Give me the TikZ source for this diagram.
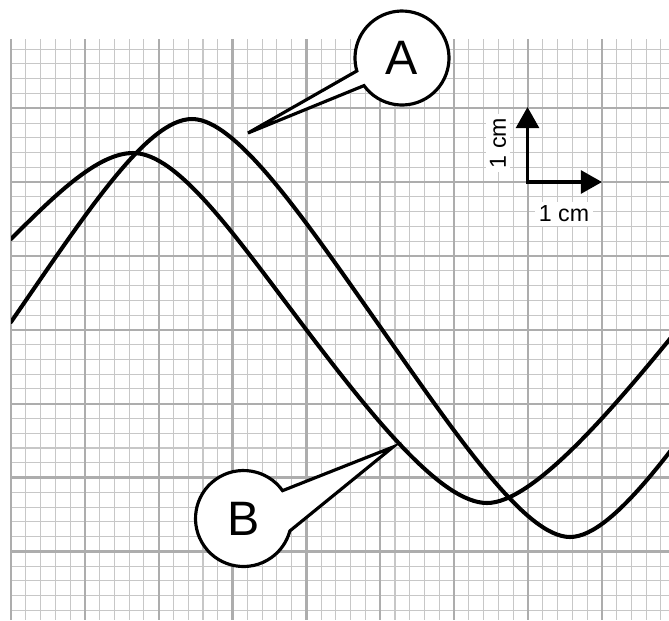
\documentclass[tikz,border=0pt]{standalone}
\usepackage{fontspec}
\setmainfont{Liberation Sans}
\usetikzlibrary{arrows.meta}
\begin{document}
\begin{tikzpicture}[x=0.02cm,y=-0.02cm,
  minorline/.style={draw=black!22, line width=0.6pt},
  majorline/.style={draw=black!32, line width=1.3pt},
  wave/.style={line width=2.3pt, line join=round, line cap=round},
  callout/.style={draw=black, fill=white, line width=1.8pt, line join=miter},
  bigletter/.style={font=\fontsize{27.5}{30}\selectfont, inner sep=0pt},
  cmlabel/.style={font=\fontsize{13.2}{15}\selectfont, fill=white, inner sep=2pt},
  scalearrow/.style={line width=1.9pt, line join=miter, {Triangle[length=12pt,width=13pt]}-{Triangle[length=12pt,width=13pt]}}
]
\useasboundingbox (0,0) rectangle (669,620);
\fill[white] (0,0) rectangle (669,620);
% grid minor
\foreach \i in {0,...,44} {
  \draw[minorline] ({11+\i*14.77},39) -- ({11+\i*14.77},620);
}
\foreach \j in {1,...,39} {
  \draw[minorline] (11,{34.4+\j*14.77}) -- (669,{34.4+\j*14.77});
}
% grid major
\foreach \i in {0,...,8} {
  \draw[majorline] ({11+\i*73.85},39) -- ({11+\i*73.85},620);
}
\foreach \j in {1,...,7} {
  \draw[majorline] (11,{34.4+\j*73.85}) -- (669,{34.4+\j*73.85});
}
% curves (clipped at the right edge of the paper)
\begin{scope}
\clip (11,0) rectangle (669,620);
% curve A
\draw[wave] (11,322) .. controls (86,213.25) and (147,119) .. (192,119)
  .. controls (237,119) and (306,221.5) .. (381,328)
  .. controls (456,434.5) and (525,537) .. (570,537)
  .. controls (615,537) and (684,434.5) .. (759,328);
% curve B
\draw[wave] (11,239) .. controls (56,194) and (98,153) .. (133,153)
  .. controls (178,153) and (235,235.6) .. (305,328)
  .. controls (375,420.4) and (442,503) .. (487,503)
  .. controls (532,503) and (609,413.2) .. (669,340)
  -- (690,314);
\end{scope}
% scale
\coordinate (su) at (527.5,107);
\coordinate (sc) at (527.5,182);
\coordinate (sr) at (602,182);
\draw[scalearrow] (su) -- (sc) -- (sr);
\node[cmlabel, rotate=90] (lv) at (498,143) {1 cm};
\node[cmlabel] (lh) at (564,214) {1 cm};
% callout A
\coordinate (cA) at (402,58);
\coordinate (tipA) at (248,133);
\draw[callout] ([shift={(216:0.94cm)}]cA) arc[start angle=216, end angle=556, radius=0.94cm] -- (tipA) -- cycle;
\node[bigletter] (A) at (cA) {A};
% callout B
\coordinate (cB) at (243.5,518.5);
\coordinate (tipB) at (393,447);
\draw[callout] ([shift={(35.5:0.96cm)}]cB) arc[start angle=35.5, end angle=345, radius=0.96cm] -- (tipB) -- cycle;
\node[bigletter] (B) at (cB) {B};
\end{tikzpicture}
\end{document}
